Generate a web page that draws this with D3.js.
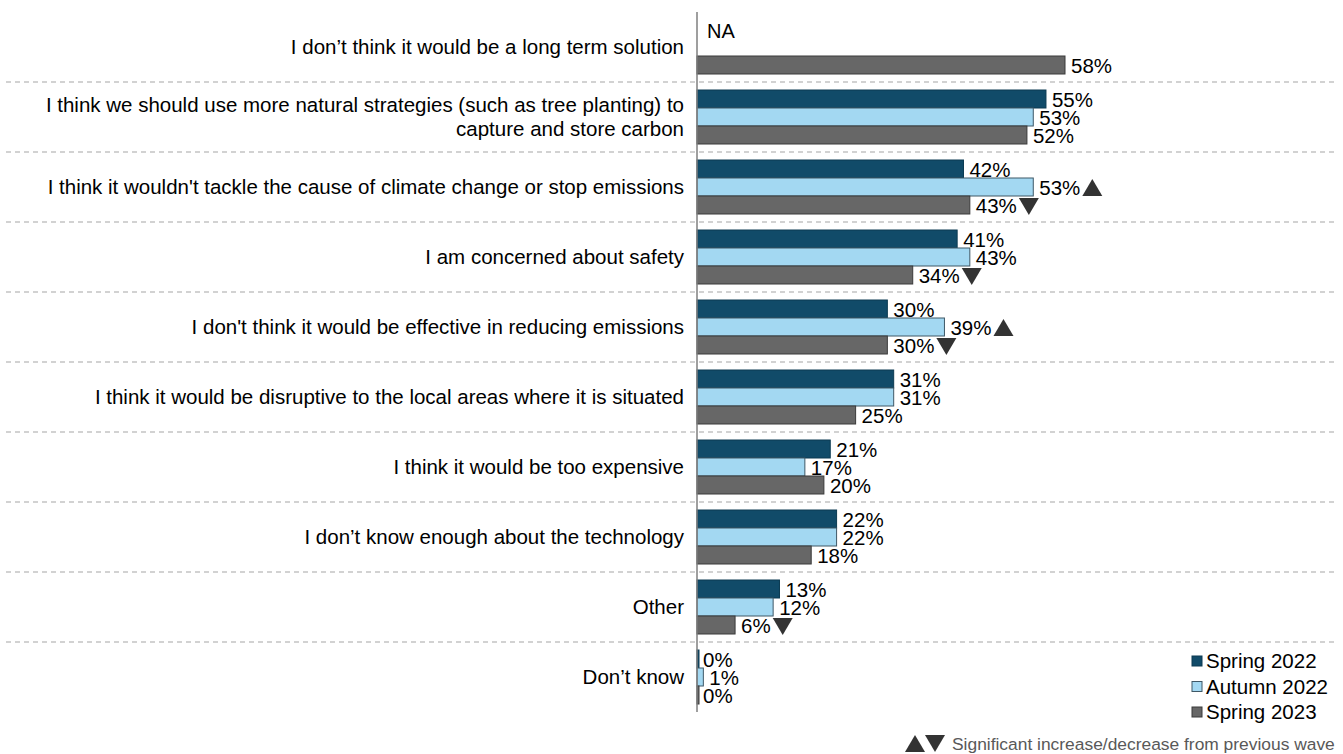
<!DOCTYPE html>
<html><head><meta charset="utf-8">
<script src="https://cdn.jsdelivr.net/npm/d3@7"></script>
<style>body{margin:0;background:#fff}svg{display:block;font-family:"Liberation Sans",Arial,sans-serif}</style>
</head><body><svg id="c" width="1343" height="754"></svg>
<script>
const categories = [
  ["I don’t think it would be a long term solution"],
  ["I think  we should use more natural  strategies (such as tree planting) to", "capture and store carbon"],
  ["I think  it wouldn't tackle the cause of climate change or stop emissions"],
  ["I am concerned about safety"],
  ["I don't think  it would be effective in reducing emissions"],
  ["I think  it would be disruptive to the local areas where it is situated"],
  ["I think it would be too expensive"],
  ["I don’t know enough about the technology"],
  ["Other"],
  ["Don’t know"]
];
const seriesNames = ["Spring 2022", "Autumn 2022", "Spring 2023"];
const spring2022 = [null, 55, 42, 41, 30, 31, 21, 22, 13, 0];
const autumn2022 = [null, 53, 53, 43, 39, 31, 17, 22, 12, 1];
const spring2023 = [58, 52, 43, 34, 30, 25, 20, 18, 6, 0];
// significance markers: "up" / "down" / null
const sigSpring2022 = [null, null, null, null, null, null, null, null, null, null];
const sigAutumn2022 = [null, null, "up", null, "up", null, null, null, null, null];
const sigSpring2023 = [null, null, "down", "down", "down", null, null, null, "down", null];
const footnote = "Significant increase/decrease from previous wave";

const colors = ["#114b69", "#a3d8f2", "#676767"];
const strokes = ["#0c3a52", "#3f5866", "#3a3a3a"];
const values = [spring2022, autumn2022, spring2023];
const sigs = [sigSpring2022, sigAutumn2022, sigSpring2023];

const svg = d3.select("#c");
const x0 = 697;
const x = d3.scaleLinear().domain([0, 58]).range([x0, 1065]);
const y = d3.scaleBand().domain(d3.range(categories.length)).range([12, 712]).paddingInner(0).paddingOuter(0);
const yInner = d3.scaleBand().domain(d3.range(3)).range([8, 62]);

// separators
svg.append("g").selectAll("line").data(d3.range(1, categories.length)).join("line")
  .attr("x1", 6).attr("x2", 1336)
  .attr("y1", i => y(i)).attr("y2", i => y(i))
  .attr("stroke", "#a6a6a6").attr("stroke-width", 1.2).attr("stroke-dasharray", "5,4");

// category labels
const lab = svg.append("g").attr("font-size", 20.5).attr("fill", "#000").attr("text-anchor", "end");
categories.forEach((lines, i) => {
  const cy = y(i) + y.bandwidth() / 2;
  const n = lines.length;
  lines.forEach((t, k) => {
    lab.append("text").attr("x", 684)
      .attr("y", cy + (k - (n - 1) / 2) * 24 + 7)
      .text(t);
  });
});

// bars
const g = svg.append("g");
values.forEach((arr, s) => {
  arr.forEach((v, i) => {
    if (v === null) return;
    const by = y(i) + yInner(s);
    const bh = yInner.bandwidth();
    g.append("rect").attr("x", x(0)).attr("y", by)
      .attr("width", Math.max(x(v) - x(0), 2)).attr("height", bh)
      .attr("fill", colors[s]).attr("stroke", strokes[s]).attr("stroke-width", 1);
    const tx = x(v) + 6;
    const t = g.append("text").attr("x", tx).attr("y", by + bh / 2 + 8)
      .attr("font-size", 20.5).attr("fill", "#000").text(v + "%");
    const sig = sigs[s][i];
    if (sig) {
      const w = t.node().getComputedTextLength();
      const cx = tx + w + 12, cyy = by + bh / 2 + 1;
      const p = sig === "up"
        ? [[cx - 10, cyy + 8], [cx + 10, cyy + 8], [cx, cyy - 9]]
        : [[cx - 10, cyy - 8], [cx + 10, cyy - 8], [cx, cyy + 9]];
      g.append("path").attr("d", d3.line()(p) + "Z").attr("fill", "#333");
    }
  });
});

// NA text
svg.append("text").attr("x", 707).attr("y", 38).attr("font-size", 20).text("NA");

// axis line
svg.append("line").attr("x1", x0).attr("x2", x0).attr("y1", 12).attr("y2", 712)
  .attr("stroke", "#7f7f7f").attr("stroke-width", 1.5);

// legend
const leg = svg.append("g");
seriesNames.forEach((n, i) => {
  const ly = 661 + i * 25.5;
  leg.append("rect").attr("x", 1192).attr("y", ly - 5).attr("width", 10).attr("height", 10)
    .attr("fill", colors[i]).attr("stroke", strokes[i]);
  leg.append("text").attr("x", 1206).attr("y", ly + 7).attr("font-size", 20.5).text(n);
});

// footnote
const fy = 744;
svg.append("path").attr("d", d3.line()([[905, fy + 8], [925, fy + 8], [915, fy - 9]]) + "Z").attr("fill", "#333");
svg.append("path").attr("d", d3.line()([[925, fy - 9], [945, fy - 9], [935, fy + 8]]) + "Z").attr("fill", "#333");
svg.append("text").attr("x", 952).attr("y", fy + 6).attr("font-size", 17.4).attr("fill", "#595959").text(footnote);
</script></body></html>
